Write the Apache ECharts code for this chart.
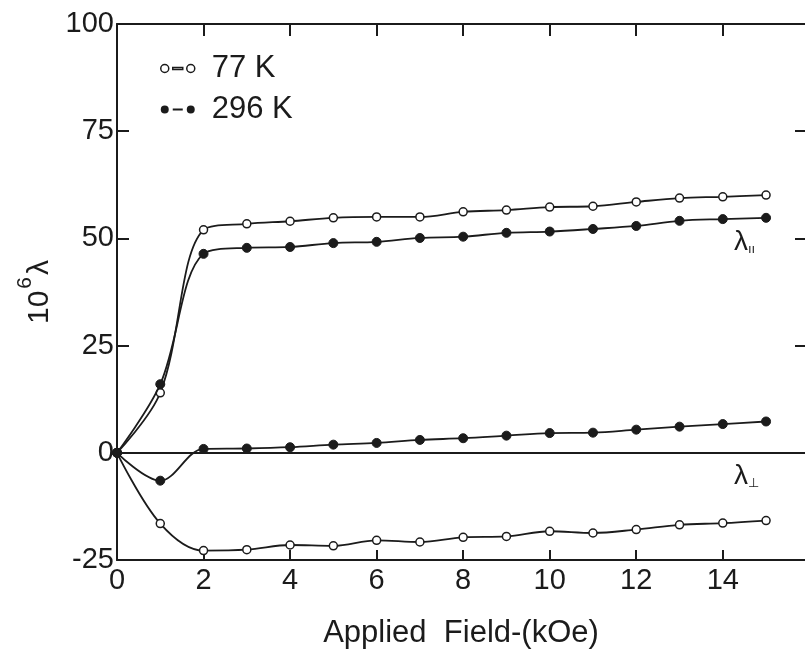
<!DOCTYPE html>
<html>
<head>
<meta charset="utf-8">
<script src="https://cdn.jsdelivr.net/npm/echarts@6/dist/echarts.min.js"></script>
<style>
html,body{margin:0;padding:0;background:#fff;}
#c{width:805px;height:657px;}
</style>
</head>
<body>
<div id="c"></div>
<script>
// ---- data ----
const fieldPar = [0, 1, 2, 3, 4, 5, 6, 7, 8, 9, 10, 11, 12, 13, 14, 15];
const par77   = [0, 14, 52, 53.4, 54, 54.8, 55, 55, 56.2, 56.6, 57.3, 57.5, 58.5, 59.4, 59.7, 60.1];
const par296  = [0, 16, 46.4, 47.8, 48, 48.9, 49.2, 50.1, 50.4, 51.3, 51.6, 52.2, 52.9, 54.1, 54.5, 54.8];
const perp77  = [0, -16.5, -22.8, -22.6, -21.5, -21.7, -20.4, -20.8, -19.7, -19.5, -18.3, -18.7, -17.9, -16.8, -16.4, -15.8];
const perp296 = [0, -6.5, 0.9, 1.0, 1.3, 1.9, 2.3, 3.0, 3.4, 4.0, 4.6, 4.7, 5.4, 6.1, 6.7, 7.3];
const xTicks = [0, 2, 4, 6, 8, 10, 12, 14];
const yTicks = [-25, 0, 25, 50, 75, 100];
const legendNames = ['77 K', '296 K'];

const pairs = (xs, ys) => xs.map((x, i) => [x, ys[i]]);
const INK = '#1b1b1b';
const FONT = '"Liberation Sans", Arial, sans-serif';

const chart = echarts.init(document.getElementById('c'), null, {renderer: 'canvas'});

const axisLineStyle = {color: INK, width: 2};
const openStyle = {color: '#fff', borderColor: INK, borderWidth: 1.5};
const fillStyle = {color: INK, borderColor: INK, borderWidth: 1};

function lineSeries(name, data, open) {
  return {
    type: 'line',
    name: name,
    data: data,
    smooth: 0.35,
    symbol: 'circle',
    symbolSize: open ? 8 : 9,
    itemStyle: open ? openStyle : fillStyle,
    lineStyle: {color: INK, width: 1.8},
    z: open ? 3 : 4,
    animation: false
  };
}

const iconPath = 'path://M1,5a4,4 0 1,0 8,0a4,4 0 1,0 -8,0Z M13,4h10v2h-10Z M27,5a4,4 0 1,0 8,0a4,4 0 1,0 -8,0Z';

const option = {
  backgroundColor: '#fff',
  animation: false,
  grid: {left: 117, top: 24, right: 0, bottom: 97, containLabel: false},
  legend: {
    orient: 'vertical',
    left: 155,
    top: 48,
    itemWidth: 34,
    itemHeight: 9,
    itemGap: 10,
    textStyle: {fontFamily: FONT, fontSize: 31, color: INK, padding: [0, 0, 0, 12]},
    data: [
      {name: legendNames[0], icon: iconPath, itemStyle: {color: '#fff', borderColor: INK, borderWidth: 1.5}},
      {name: legendNames[1], icon: iconPath, itemStyle: {color: INK, borderColor: INK, borderWidth: 0}}
    ],
    selectedMode: false
  },
  xAxis: [{
    type: 'value', min: 0, max: 15.9, interval: 2, position: 'bottom',
    axisLine: {show: true, onZero: false, lineStyle: axisLineStyle},
    axisTick: {show: true, inside: true, length: 10, customValues: xTicks, lineStyle: {color: INK, width: 2}},
    axisLabel: {fontFamily: FONT, fontSize: 29, color: INK, margin: 6, customValues: xTicks,
      formatter: v => xTicks.indexOf(v) >= 0 ? String(v) : ''},
    splitLine: {show: false},
    name: 'Applied  Field-(kOe)', nameLocation: 'middle', nameGap: 58,
    nameTextStyle: {fontFamily: FONT, fontSize: 31, color: INK}
  }, {
    type: 'value', min: 0, max: 15.9, interval: 2, position: 'top',
    axisLine: {show: true, onZero: false, lineStyle: axisLineStyle},
    axisTick: {show: true, inside: true, length: 12, customValues: xTicks, lineStyle: {color: INK, width: 2}},
    axisLabel: {show: false}, splitLine: {show: false}
  }],
  yAxis: [{
    type: 'value', min: -25, max: 100, interval: 25, position: 'left',
    axisLine: {show: true, onZero: false, lineStyle: axisLineStyle},
    axisTick: {show: true, inside: true, length: 12, lineStyle: {color: INK, width: 2}},
    axisLabel: {fontFamily: FONT, fontSize: 29, color: INK, margin: 3,
      formatter: v => yTicks.indexOf(v) >= 0 ? String(v) : ''},
    splitLine: {show: false},
    name: '{a|10}{b|6}{a|λ}', nameLocation: 'middle', nameGap: 56, nameRotate: 90,
    nameTextStyle: {
      fontFamily: FONT, color: INK,
      rich: {
        a: {fontFamily: FONT, fontSize: 30, color: INK, lineHeight: 40, verticalAlign: 'bottom'},
        b: {fontFamily: FONT, fontSize: 21, color: INK, lineHeight: 40, verticalAlign: 'top', padding: [0, 2, 0, 2]}
      }
    }
  }, {
    type: 'value', min: -25, max: 100, interval: 25, position: 'right',
    axisLine: {show: false, onZero: false},
    axisTick: {show: true, inside: true, length: 10, lineStyle: {color: INK, width: 2}},
    axisLabel: {show: false}, splitLine: {show: false}
  }],
  series: [
    lineSeries(legendNames[0], pairs(fieldPar, par77), true),
    lineSeries(legendNames[1], pairs(fieldPar, par296), false),
    Object.assign(lineSeries(legendNames[0], pairs(fieldPar, perp77), true), {
      markLine: {
        silent: true, symbol: ['none', 'none'], label: {show: false},
        lineStyle: {color: INK, width: 2, type: 'solid'},
        data: [{yAxis: 0}]
      }
    }),
    lineSeries(legendNames[1], pairs(fieldPar, perp296), false)
  ],
  graphic: [
    {type: 'text', left: 734, top: 228, style: {
      text: '{l|λ}{s|ıı}', fill: INK,
      rich: {l: {fontFamily: FONT, fontSize: 28, fill: INK, verticalAlign: 'bottom'},
             s: {fontFamily: FONT, fontSize: 13, fill: INK, verticalAlign: 'bottom'}}}},
    {type: 'text', left: 734, top: 462, style: {
      text: '{l|λ}{s|⊥}', fill: INK,
      rich: {l: {fontFamily: FONT, fontSize: 28, fill: INK, verticalAlign: 'bottom'},
             s: {fontFamily: FONT, fontSize: 13, fill: INK, verticalAlign: 'bottom'}}}}
  ]
};
chart.setOption(option);
</script>
</body>
</html>
